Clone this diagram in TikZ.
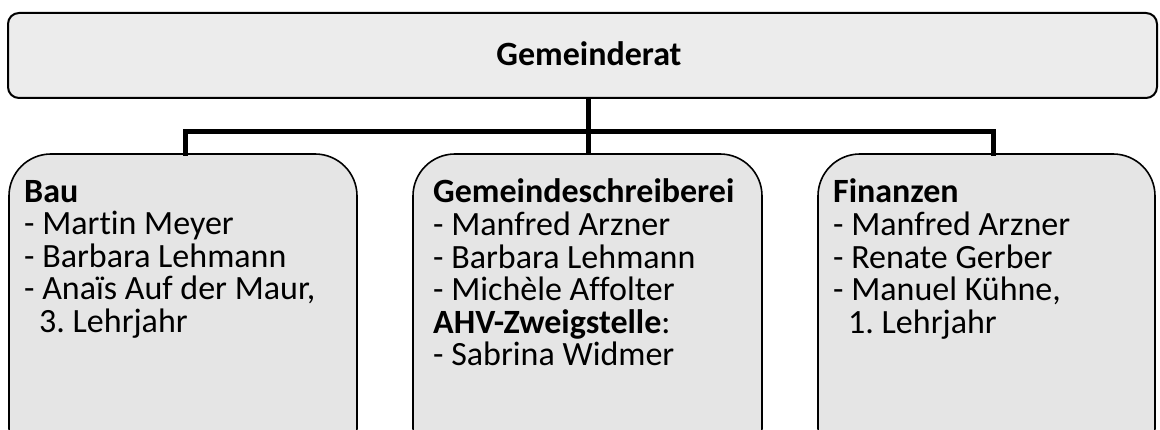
\documentclass[tikz,border=0pt]{standalone}
\usepackage{fontspec}
\setmainfont{Carlito}[Ligatures=NoCommon]
\frenchspacing
\definecolor{topfill}{HTML}{ECECEC}
\definecolor{boxfill}{HTML}{E5E5E5}
\newcommand\unitfont{\fontsize{34}{33}\selectfont\frenchspacing\lineskiplimit=-100pt\relax\lineskip=0pt\relax}
\newcommand\nl{\\[-0.4pt]}
\begin{document}
\begin{tikzpicture}[x=1pt,y=-1pt,
  topbox/.style={draw=black,line width=2pt,fill=topfill,rounded corners=11pt,inner sep=0pt},
  unitbox/.style={draw=black,line width=1.6pt,fill=boxfill,rounded corners=42pt,inner sep=0pt},
  conn/.style={line width=5pt},
  txt/.style={font=\unitfont,align=left,inner sep=0pt,anchor=north west}]
\useasboundingbox[fill=white] (0,0) rectangle (1160,430);
\draw[topbox] (8,13) rectangle (1157,98);
\node[inner sep=0pt,anchor=base] (gr) at (589,66) {\fontsize{34}{33}\selectfont\bfseries Gemeinderat};
\coordinate (grb) at (588,98);
\draw[unitbox] (9,154) rectangle (357,470);
\draw[unitbox] (413,154) rectangle (762,470);
\draw[unitbox] (818,154) rectangle (1155,470);
\coordinate (bau) at (185,154);
\coordinate (gem) at (588,154);
\coordinate (fin) at (993,154);
\coordinate (bar) at (588,132);
\draw[conn] (grb) -- (gem);
\draw[conn,line cap=rect] (bau) |- (bar) -| (fin);
\node[txt] (t1) at (24,178.9) {\strut\textbf{Bau}\nl- Martin Meyer\nl- Barbara Lehmann\nl- Anaïs Auf der Maur,\nl\hspace*{15pt}3. Lehrjahr};
\node[txt] (t2) at (433,178.9) {\strut\textbf{Gemeindeschreiberei}\nl- Manfred Arzner\nl- Barbara Lehmann\nl- Michèle Affolter\nl\textbf{AHV-Zweigstelle}:\nl- Sabrina Widmer};
\node[txt] (t3) at (833,178.9) {\strut\textbf{Finanzen}\nl- Manfred Arzner\nl- Renate Gerber\nl- Manuel Kühne,\nl\hspace*{15pt}1. Lehrjahr};
\end{tikzpicture}
\end{document}
